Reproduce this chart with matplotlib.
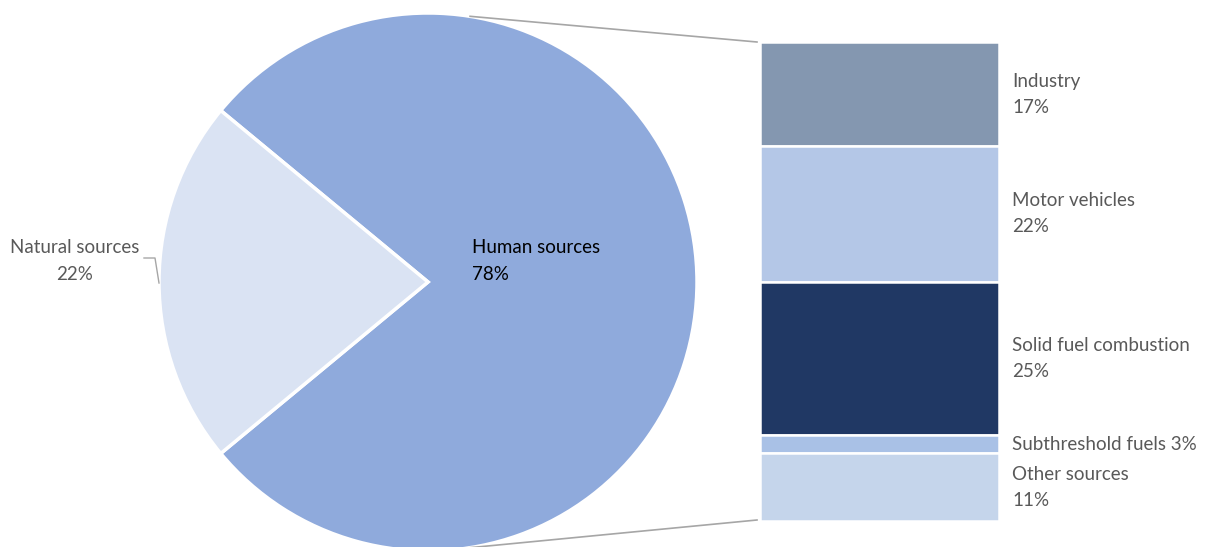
import numpy as np
import matplotlib.pyplot as plt

# share of emissions
pie_labels = ["Human sources", "Natural sources"]
pie_values = [78, 22]
pie_colors = ["#8FAADC", "#DAE3F3"]

bar_labels = ["Industry", "Motor vehicles", "Solid fuel combustion", "Subthreshold fuels", "Other sources"]
bar_values = [17, 22, 25, 3, 11]
bar_colors = ["#8497B0", "#B4C7E7", "#203864", "#A9C1E6", "#C5D5EB"]

W, H = 1206, 547
fig = plt.figure(figsize=(W / 100, H / 100), dpi=100)
ax = fig.add_axes([0, 0, 1, 1])
ax.set_aspect("equal")

plt.rcParams["font.family"] = ["Lato", "DejaVu Sans"]
fs = 13.5
ls = 1.65
grey = "#595959"

# pie, natural slice centred on the left
cx, cy, r = 428, 265, 269
nat_span = pie_values[1] / sum(pie_values) * 360
start = 180 + nat_span / 2
wedges, _ = ax.pie(pie_values, colors=pie_colors, startangle=start, counterclock=True,
                   center=(cx, cy), radius=r, frame=True,
                   wedgeprops=dict(edgecolor="white", linewidth=2.5))
ax.set_xlim(0, W)
ax.set_ylim(0, H)
ax.axis("off")

# stacked bar on the right, first item on top
bx0, bx1 = 760, 999
top = H - 42
scale = 479 / sum(bar_values)
y = top
for lab, v, c in zip(bar_labels, bar_values, bar_colors):
    h = v * scale
    ax.bar((bx0 + bx1) / 2, h, width=bx1 - bx0, bottom=y - h, color=c,
           edgecolor="white", linewidth=1.8)
    mid = y - h / 2
    if v < 5:
        ax.text(1012, mid, f"{lab} {v}%", fontsize=fs, color=grey, va="center", ha="left")
    else:
        ax.text(1012, mid, f"{lab}\n{v}%", fontsize=fs, color=grey, va="center", ha="left",
                linespacing=ls)
    y -= h
bottom = y

# connector lines from pie to bar
a_top = np.radians(81)
a_bot = np.radians(-81)
ax.plot([cx + r * np.cos(a_top), bx0 - 3], [cy + r * np.sin(a_top), top],
        color="#A6A6A6", lw=1.2, clip_on=False)
ax.plot([cx + r * np.cos(a_bot), bx0 - 3], [cy + r * np.sin(a_bot), bottom + 1],
        color="#A6A6A6", lw=1.2, clip_on=False)

# pie labels
ax.text(472, H - 261, f"{pie_labels[0]}\n{pie_values[0]}%", fontsize=fs, color="black",
        va="center", ha="left", linespacing=ls)
ax.text(75, H - 261, f"{pie_labels[1]}\n{pie_values[1]}%", fontsize=fs, color=grey,
        va="center", ha="center", linespacing=ls)
ax.plot([144, 155, 159], [H - 258, H - 258, H - 283], color="#A6A6A6", lw=1)

fig.savefig("out.png", dpi=100)
